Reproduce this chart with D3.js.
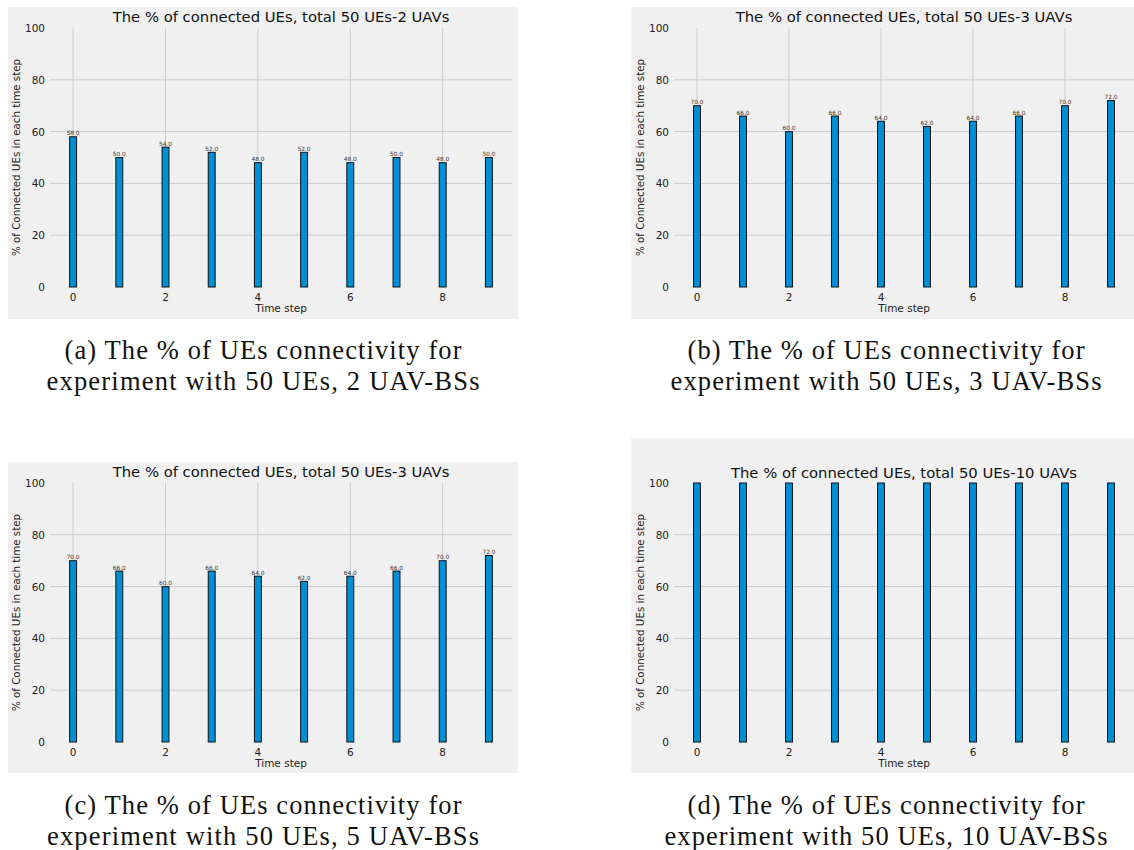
<!DOCTYPE html>
<html><head><meta charset="utf-8">
<script src="https://cdn.jsdelivr.net/npm/d3@7"></script>
<style>body{margin:0;background:#fff}svg{display:block}</style>
</head><body>
<svg id="c" width="1134" height="850"></svg>
<script>
const timeSteps = [0,1,2,3,4,5,6,7,8,9];
const xTicks = [0,2,4,6,8];
const yTicks = [0,20,40,60,80,100];
const conn2UAV = [58,50,54,52,48,52,48,50,48,50];
const conn3UAV = [70,66,60,66,64,62,64,66,70,72];
const conn5UAV = [70,66,60,66,64,62,64,66,70,72];
const conn10UAV = [100,100,100,100,100,100,100,100,100,100];
const titles = [
  "The % of connected UEs, total 50 UEs-2 UAVs",
  "The % of connected UEs, total 50 UEs-3 UAVs",
  "The % of connected UEs, total 50 UEs-3 UAVs",
  "The % of connected UEs, total 50 UEs-10 UAVs"
];
const captions = [
  ["(a) The % of UEs connectivity for","experiment with 50 UEs, 2 UAV-BSs"],
  ["(b) The % of UEs connectivity for","experiment with 50 UEs, 3 UAV-BSs"],
  ["(c) The % of UEs connectivity for","experiment with 50 UEs, 5 UAV-BSs"],
  ["(d) The % of UEs connectivity for","experiment with 50 UEs, 10 UAV-BSs"]
];
const yLabel = "% of Connected UEs in each time step";
const xLabel = "Time step";

const svg = d3.select("#c");
const panels = [
  {data:conn2UAV, bg:[8,7,510,312], plot:[50,28,512,287], title:titles[0], titleY:22, cap:captions[0], capX:263, capY:359, capW:[397,433], labels:true},
  {data:conn3UAV, bg:[631,7,503,312], plot:[674,28,1134,287], title:titles[1], titleY:22, cap:captions[1], capX:886, capY:359, capW:[397,431], labels:true},
  {data:conn5UAV, bg:[8,462,510,311], plot:[50,483,512,742], title:titles[2], titleY:477, cap:captions[2], capX:263, capY:814, capW:[397,432], labels:true},
  {data:conn10UAV, bg:[631,438,503,335], plot:[674,483,1134,742], title:titles[3], titleY:478, cap:captions[3], capX:886, capY:814, capW:[397,443], labels:false}
];

panels.forEach(p => {
  const g = svg.append("g");
  g.append("rect").attr("x",p.bg[0]).attr("y",p.bg[1]).attr("width",p.bg[2]).attr("height",p.bg[3]).attr("fill","#f0f0f0");
  const x = d3.scaleLinear().domain([-0.5,9.5]).range([p.plot[0],p.plot[2]]);
  const y = d3.scaleLinear().domain([0,100]).range([p.plot[3],p.plot[1]]);
  g.selectAll(".hg").data(yTicks.filter(t=>t>0&&t<100)).enter().append("line")
    .attr("x1",p.plot[0]).attr("x2",p.plot[2]).attr("y1",d=>y(d)).attr("y2",d=>y(d))
    .attr("stroke","#cbcbcb").attr("stroke-width",1);
  g.selectAll(".vg").data(xTicks).enter().append("line")
    .attr("x1",d=>x(d)).attr("x2",d=>x(d)).attr("y1",p.plot[1]).attr("y2",p.plot[3])
    .attr("stroke","#cbcbcb").attr("stroke-width",1);
  const bw = x(0.075)-x(-0.075);
  g.selectAll(".bar").data(p.data).enter().append("rect")
    .attr("x",(d,i)=>x(timeSteps[i])-bw/2).attr("width",bw)
    .attr("y",d=>y(d)).attr("height",d=>y(0)-y(d))
    .attr("fill","#008fd5").attr("stroke","#111").attr("stroke-width",1);
  if (p.labels) {
    g.selectAll(".vl").data(p.data).enter().append("text")
      .attr("x",(d,i)=>x(timeSteps[i])).attr("y",d=>y(d)-1.5)
      .attr("text-anchor","middle").attr("font-family","DejaVu Sans").attr("font-size",5.8)
      .attr("fill","#333").text(d=>d.toFixed(1));
  }
  g.selectAll(".yt").data(yTicks).enter().append("text")
    .attr("x",p.plot[0]-5).attr("y",d=>y(d)+4)
    .attr("text-anchor","end").attr("font-family","DejaVu Sans").attr("font-size",10.5)
    .attr("fill","#222").text(d=>d);
  g.selectAll(".xt").data(xTicks).enter().append("text")
    .attr("x",d=>x(d)).attr("y",p.plot[3]+14)
    .attr("text-anchor","middle").attr("font-family","DejaVu Sans").attr("font-size",10.5)
    .attr("fill","#222").text(d=>d);
  g.append("text").attr("x",(x(-0.5)+x(9.5))/2).attr("y",p.plot[3]+25)
    .attr("text-anchor","middle").attr("font-family","DejaVu Sans").attr("font-size",10.5)
    .attr("fill","#222").text(xLabel);
  const ym = (p.plot[1]+p.plot[3])/2;
  g.append("text").attr("transform",`translate(${p.plot[0]-30},${ym}) rotate(-90)`)
    .attr("text-anchor","middle").attr("font-family","DejaVu Sans").attr("font-size",10.3)
    .attr("fill","#222").text(yLabel);
  g.append("text").attr("x",(x(-0.5)+x(9.5))/2).attr("y",p.titleY)
    .attr("text-anchor","middle").attr("font-family","DejaVu Sans").attr("font-size",14.8)
    .attr("fill","#111").text(p.title);
  p.cap.forEach((line,k)=>{
    g.append("text").attr("x",p.capX).attr("y",p.capY+k*31)
      .attr("text-anchor","middle").attr("font-family","Liberation Serif").attr("font-size",26.5)
      .attr("textLength",p.capW[k]).attr("lengthAdjust","spacing")
      .attr("fill","#111").text(line);
  });
});
</script>
</body></html>
